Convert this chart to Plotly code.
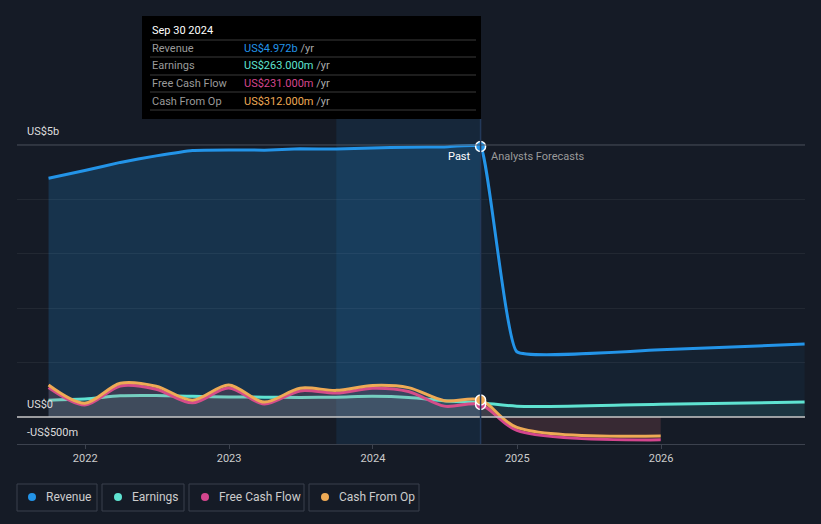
import plotly.graph_objects as go

# ---------------- data (US$ millions) ----------------
past_dates = ["2021-09-30", "2021-12-31", "2022-03-31", "2022-06-30", "2022-09-30",
              "2022-12-31", "2023-03-31", "2023-06-30", "2023-09-30", "2023-12-31",
              "2024-03-31", "2024-06-30", "2024-09-30"]
revenue_past = [4390, 4530, 4680, 4800, 4900, 4910, 4905, 4930, 4925, 4945, 4960, 4965, 4972]
earnings_past = [310, 330, 390, 395, 380, 370, 365, 360, 365, 380, 360, 300, 263]
fcf_past = [540, 220, 570, 510, 260, 535, 240, 480, 440, 530, 470, 200, 231]
cfo_past = [590, 255, 620, 565, 310, 590, 275, 530, 490, 580, 540, 300, 312]

fc_dates_long = ["2024-09-30", "2024-12-31", "2025-12-31", "2026-12-31"]
revenue_fc = [4972, 1200, 1235, 1340]
earnings_fc = [263, 200, 235, 275]
fc_dates_short = ["2024-09-30", "2024-12-31", "2025-12-31"]
fcf_fc = [231, -245, -420]
cfo_fc = [312, -190, -350]

year_ticks = ["2022-01-01", "2023-01-01", "2024-01-01", "2025-01-01", "2026-01-01"]
year_labels = ["2022", "2023", "2024", "2025", "2026"]

tooltip_title = "Sep 30 2024"
tooltip_rows = [("Revenue", "US$4.972b"), ("Earnings", "US$263.000m"),
                ("Free Cash Flow", "US$231.000m"), ("Cash From Op", "US$312.000m")]
legend_names = ["Revenue", "Earnings", "Free Cash Flow", "Cash From Op"]

# ---------------- style ----------------
BG = "#151b26"
C_REV = "#2394e8"
C_EARN = "#5fe3d1"
C_FCF = "#d4468e"
C_CFO = "#eeaa55"
FONT = "Roboto"

# page offset of the figure (default body margin)
OFF = 8
# plot area in page pixels
L, R, T, B = 17, 805, 16, 444
def px(x):
    return (x - L) / (R - L)
def py(y):
    return (B - y) / (B - T)

fig = go.Figure()

# revenue fills
fig.add_trace(go.Scatter(x=past_dates, y=revenue_past, mode="lines", line=dict(width=0, shape="spline", smoothing=0.6),
                         fill="tozeroy", fillcolor="rgba(35,148,232,0.20)", hoverinfo="skip"))
fig.add_trace(go.Scatter(x=fc_dates_long, y=revenue_fc, mode="lines", line=dict(width=0, shape="spline", smoothing=0.3),
                         fill="tozeroy", fillcolor="rgba(35,148,232,0.06)", hoverinfo="skip"))

def series(dates_p, vals_p, dates_f, vals_f, color, fillrgba, fill=True, smooth=0.9):
    xs = dates_p + dates_f[1:]
    ys = vals_p + vals_f[1:]
    fig.add_trace(go.Scatter(x=xs, y=ys, mode="lines",
                             line=dict(color=color, width=3, shape="spline", smoothing=smooth),
                             fill="tozeroy" if fill else None, fillcolor=fillrgba, hoverinfo="skip"))

series(past_dates, revenue_past, fc_dates_long, revenue_fc, C_REV, None, fill=False, smooth=0.3)
series(past_dates, earnings_past, fc_dates_long, earnings_fc, C_EARN, "rgba(95,227,209,0.10)")
series(past_dates, fcf_past, fc_dates_short, fcf_fc, C_FCF, "rgba(212,70,142,0.10)")
series(past_dates, cfo_past, fc_dates_short, cfo_fc, C_CFO, "rgba(238,170,85,0.08)")

# hover markers at last past point
for vals, col in [(earnings_past, C_EARN), (fcf_past, C_FCF), (cfo_past, C_CFO), (revenue_past, C_REV)]:
    fig.add_trace(go.Scatter(x=[past_dates[-1]], y=[vals[-1]], mode="markers",
                             marker=dict(size=10, color=col, line=dict(color="white", width=1.5)),
                             hoverinfo="skip"))

shapes = []
# last-year highlight band
shapes.append(dict(type="rect", xref="x", yref="paper", x0="2023-09-30", x1=past_dates[-1], y0=0, y1=1,
                   fillcolor="rgba(35,148,232,0.10)", line=dict(width=0), layer="below"))
# 5b line and zero line
shapes.append(dict(type="line", xref="paper", yref="y", x0=0, x1=1, y0=5000, y1=5000,
                   line=dict(color="#4a505c", width=1)))
shapes.append(dict(type="line", xref="paper", yref="y", x0=0, x1=1, y0=0, y1=0,
                   line=dict(color="#c8c8c8", width=1.5)))
# vertical cursor line
shapes.append(dict(type="line", xref="x", yref="paper", x0=past_dates[-1], x1=past_dates[-1], y0=0, y1=py(119),
                   line=dict(color="#23395a", width=1.5)))
# tooltip box
shapes.append(dict(type="rect", xref="paper", yref="paper", x0=px(142), x1=px(481), y0=py(119), y1=py(16),
                   fillcolor="#000000", line=dict(width=0)))
for sy in [40, 57, 75, 92, 110]:
    shapes.append(dict(type="line", xref="paper", yref="paper", x0=px(150), x1=px(476), y0=py(sy), y1=py(sy),
                       line=dict(color="#3a3a3a", width=1)))

annotations = []
def txt(x, y, s, color, size=11, anchor="left"):
    annotations.append(dict(xref="paper", yref="paper", x=px(x), y=py(y), text=s,
                            showarrow=False, xanchor=anchor, yanchor="middle",
                            font=dict(family=FONT, size=size, color=color)))

txt(150, 31, tooltip_title, "#ffffff", 11)
row_y = [48, 66, 83, 101]
val_cols = [C_REV, C_EARN, C_FCF, C_CFO]
for (lab, val), yy, col in zip(tooltip_rows, row_y, val_cols):
    txt(150, yy, lab, "#9a9a9a", 11)
    annotations.append(dict(xref="paper", yref="paper", x=px(242), y=py(yy),
                            text="<span style='color:%s'>%s</span><span style='color:#aaaaaa'> /yr</span>" % (col, val),
                            showarrow=False, xanchor="left", yanchor="middle", font=dict(family=FONT, size=11)))

txt(473, 156, "Past", "#ffffff", 11, anchor="right")
txt(489, 156, "Analysts Forecasts", "#9a9a9a", 11)
txt(25, 131, "US$5b", "#dddddd", 11)
txt(25, 404, "US$0", "#dddddd", 11)
txt(25, 432, "-US$500m", "#dddddd", 11)

# legend boxes
boxes = [(17, 97), (102, 184), (189, 304), (309, 419)]
dots = [32, 118, 205, 325]
text_x = [44, 130, 217, 337]
for (x0, x1), dx, tx, name, col in zip(boxes, dots, text_x, legend_names, val_cols):
    shapes.append(dict(type="rect", xref="paper", yref="paper", x0=px(x0), x1=px(x1), y0=py(511), y1=py(484),
                       line=dict(color="#3a404c", width=1), fillcolor="rgba(0,0,0,0)"))
    shapes.append(dict(type="circle", xref="paper", yref="paper", x0=px(dx - 4), x1=px(dx + 4),
                       y0=py(497 + 4), y1=py(497 - 4), fillcolor=col, line=dict(width=0)))
    txt(tx, 497, name, "#cccccc", 12)

fig.update_layout(
    width=821, height=524,
    margin=dict(l=L - OFF, r=821 + OFF - R, t=T - OFF, b=524 + OFF - B),
    paper_bgcolor=BG, plot_bgcolor=BG,
    showlegend=False, hovermode=False,
    shapes=shapes, annotations=annotations,
    xaxis=dict(type="date", range=["2021-07-12", "2027-01-01"], tickvals=year_ticks, ticktext=year_labels,
               showgrid=False, showline=True, linecolor="#3c424e", linewidth=1, ticks="outside",
               tickcolor="#3c424e", ticklen=4, zeroline=False,
               tickfont=dict(family=FONT, size=11, color="#cccccc")),
    yaxis=dict(range=[-496, 7371], tickvals=[1000, 2000, 3000, 4000], showticklabels=False,
               showgrid=True, gridcolor="rgba(255,255,255,0.06)", zeroline=False, fixedrange=True),
)

fig.write_html("out.html", post_script="document.body.style.background='%s';" % BG)
